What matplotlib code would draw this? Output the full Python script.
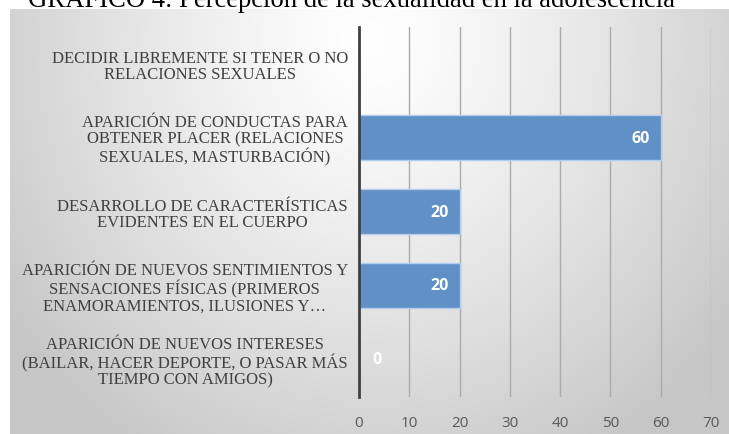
import numpy as np
import matplotlib
matplotlib.use("Agg")
import matplotlib.pyplot as plt
import matplotlib.transforms as mtransforms

title = "GRÁFICO 4: Percepción de la sexualidad en la adolescencia"
categories = [
    "DECIDIR LIBREMENTE SI TENER O NO\nRELACIONES SEXUALES",
    "APARICIÓN DE CONDUCTAS PARA\nOBTENER PLACER (RELACIONES\nSEXUALES, MASTURBACIÓN)",
    "DESARROLLO DE CARACTERÍSTICAS\nEVIDENTES EN EL CUERPO",
    "APARICIÓN DE NUEVOS SENTIMIENTOS Y\nSENSACIONES FÍSICAS (PRIMEROS\nENAMORAMIENTOS, ILUSIONES Y…",
    "APARICIÓN DE NUEVOS INTERESES\n(BAILAR, HACER DEPORTE, O PASAR MÁS\nTIEMPO CON AMIGOS)",
]
values = [None, 60, 20, 20, 0]
xticks = [0, 10, 20, 30, 40, 50, 60, 70]

W, H = 729, 435
fig = plt.figure(figsize=(W / 100, H / 100), dpi=100)
fig.patch.set_facecolor("white")

# gradient background panel
bx0, by0, bx1, by1 = 10, 10, 729, 435  # pixel box (top-left origin)
bg = fig.add_axes([bx0 / W, 1 - by1 / H, (bx1 - bx0) / W, (by1 - by0) / H])
bg.set_axis_off()
xs = np.linspace(bx0, bx1, 400)
ys = np.linspace(by0, by1, 300)
X, Y = np.meshgrid(xs, ys)
d = np.sqrt(((X - 370) / 1.0) ** 2 + ((Y - 40) / 1.1) ** 2)
t = np.clip(d / 440.0, 0, 1) ** 1.25
lo, hi = 1.0, 0.78
val = hi + (lo - hi) * (1 - t)
img = np.dstack([val, val, val])
bg.imshow(img, extent=[0, 1, 0, 1], aspect="auto", origin="upper", interpolation="bilinear")
bg.set_zorder(0)

# main axes
left, right, top, bottom = 359, 711, 27.5, 397.5
ax = fig.add_axes([left / W, 1 - bottom / H, (right - left) / W, (bottom - top) / H])
ax.set_zorder(1)
ax.set_facecolor("none")

n = len(categories)
ypos = np.arange(n)
bar_vals = [v if v is not None else 0 for v in values]
bars = ax.barh(ypos, bar_vals, height=0.61, color="#6190c6", edgecolor="#b3cdea",
               linewidth=1.0, zorder=3)
for i, v in enumerate(values):
    if v is None:
        bars[i].set_visible(False)

ax.set_xlim(0, 70)
ax.set_ylim(n - 0.5, -0.5)
ax.set_xticks(xticks)
ax.set_xticklabels([str(x) for x in xticks], fontsize=11, color="#595959",
                   family="Open Sans")
ax.set_yticks(ypos)
ax.set_yticklabels(categories, fontsize=12, color="#404040",
                   family="Liberation Serif", ha="right", ma="center",
                   linespacing=1.06)
ax.tick_params(axis="x", length=0, pad=13)
ax.tick_params(axis="y", length=0, pad=8)
ax.grid(axis="x", color="#ababab", linewidth=1.0, zorder=1)
ax.set_axisbelow(True)
for s in ["top", "right", "bottom"]:
    ax.spines[s].set_visible(False)
ax.spines["left"].set_color("#404040")
ax.spines["left"].set_linewidth(2.0)
ax.spines["left"].set_zorder(4)

for i, v in enumerate(values):
    if v is None:
        continue
    if v > 0:
        off = mtransforms.offset_copy(ax.transData, fig=fig, x=-11, y=0, units="dots")
        ax.text(v, i, str(v), transform=off, ha="right", va="center", color="white",
                fontsize=11.5, fontweight="bold", family="Open Sans", zorder=5)
    else:
        off = mtransforms.offset_copy(ax.transData, fig=fig, x=13, y=0, units="dots")
        ax.text(v, i, str(v), transform=off, ha="left", va="center", color="white",
                fontsize=11.5, fontweight="bold", family="Open Sans", zorder=5)

fig.text(352 / W, 1 - 7 / H, title, ha="center", va="baseline", fontsize=19.2,
         family="Liberation Serif", color="black", zorder=10)

fig.savefig("out.png", dpi=100)
